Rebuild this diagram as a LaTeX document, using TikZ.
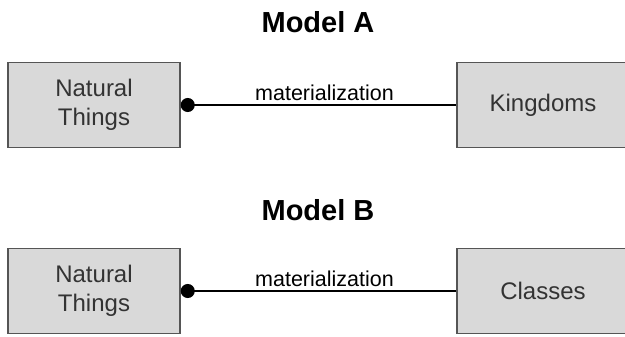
\documentclass[tikz,border=0pt]{standalone}
\usepackage{fontspec}
\setmainfont{Liberation Sans}
\usetikzlibrary{arrows.meta}

\definecolor{boxfill}{HTML}{D9D9D9}
\definecolor{boxline}{HTML}{555555}
\definecolor{boxtext}{HTML}{333333}

\tikzset{
  thing/.style={draw=boxline, line width=1.5pt, fill=boxfill, text=boxtext,
    minimum width=172pt, minimum height=85pt, inner sep=0pt, align=center,
    font=\fontsize{24}{29}\selectfont},
  title/.style={font=\bfseries\fontsize{29}{32}\selectfont},
  link/.style={line width=2pt, {Circle[length=14pt]}-},
  linklabel/.style={above, inner sep=3pt, xshift=6pt, font=\fontsize{21.5}{24}\selectfont}
}

\begin{document}
\begin{tikzpicture}[x=1pt, y=-1pt]

  \useasboundingbox (0, 0) rectangle (625, 337);

  % Model A
  \node[title] (titleA) at (318, 22) {Model A};
  \node[thing] (natA) at (94, 105) {Natural\\Things};
  \node[thing] (kingA) at (543, 105) {Kingdoms};
  \draw[link] (natA.east) -- (kingA.west)
    node[linklabel, midway] (labA) {materialization};

  % Model B
  \node[title] (titleB) at (318, 210) {Model B};
  \node[thing] (natB) at (94, 291) {Natural\\Things};
  \node[thing] (classB) at (543, 291) {Classes};
  \draw[link] (natB.east) -- (classB.west)
    node[linklabel, midway] (labB) {materialization};

\end{tikzpicture}
\end{document}
